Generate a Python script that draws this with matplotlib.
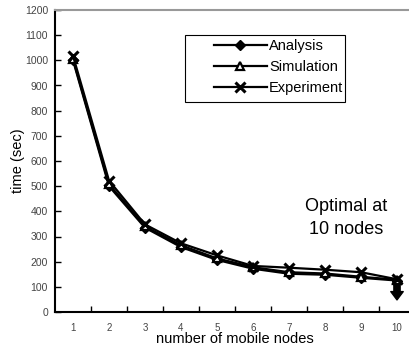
import matplotlib
matplotlib.use("Agg")
import matplotlib.pyplot as plt
from matplotlib.patches import Rectangle

plt.rcParams['font.family'] = ['Liberation Sans', 'DejaVu Sans']

nodes = [1, 2, 3, 4, 5, 6, 7, 8, 9, 10]
node_labels = [str(n) for n in nodes]
analysis = [1000, 500, 335, 258, 207, 172, 152, 148, 136, 125]
simulation = [1005, 508, 340, 265, 213, 178, 158, 153, 140, 128]
experiment = [1018, 522, 348, 273, 225, 183, 176, 168, 158, 130]
arrow_from, arrow_to = 108, 48

fig = plt.figure(figsize=(4.09, 3.49), dpi=100)
ax = fig.add_axes([55 / 409, 37 / 349, 360 / 409, 302 / 349])

lw = 1.6
ax.plot(nodes, analysis, color='black', lw=lw, marker='D', ms=5,
        mfc='black', mec='black', label='Analysis')
ax.plot(nodes, simulation, color='black', lw=lw, marker='^', ms=6,
        mfc='white', mec='black', mew=1.6, label='Simulation')
ax.plot(nodes, experiment, color='black', lw=lw, marker='x', ms=7,
        mew=2.2, label='Experiment')

ax.annotate('', xy=(10, arrow_to), xytext=(10, arrow_from),
            arrowprops=dict(arrowstyle='simple,head_width=0.9,head_length=0.6,tail_width=0.45',
                            color='black', shrinkA=0, shrinkB=0))

ax.set_xlim(0.5, 10.5)
ax.set_ylim(0, 1200)
ax.set_yticks(range(0, 1201, 100))
ax.set_xticks(nodes)
ax.set_xticklabels(node_labels)
ax.set_xticks([n + 0.5 for n in nodes[:-1]], minor=True)
ax.tick_params(axis='x', which='major', length=0, pad=8, labelsize=7, labelcolor='#444444')
ax.tick_params(axis='x', which='minor', direction='in', length=4, width=1, color='black')
ax.tick_params(axis='y', direction='in', length=4, width=1, labelsize=7.5,
               labelcolor='#444444', pad=5)

for s in ('left', 'bottom'):
    ax.spines[s].set_color('black')
    ax.spines[s].set_linewidth(1.5)
for s in ('top', 'right'):
    ax.spines[s].set_color('#999999')
    ax.spines[s].set_linewidth(1.5)

ax.set_xlabel('number of mobile nodes', fontsize=10.5, va='center')
ax.xaxis.set_label_coords(0.5, -0.09)
ax.set_ylabel('time (sec)', fontsize=10.5, va='center')
ax.yaxis.set_label_coords(-0.103, 0.5)

ax.add_patch(Rectangle((0.361, 0.695), 0.445, 0.222, transform=ax.transAxes,
                       fill=True, facecolor='white', edgecolor='black', lw=0.8, zorder=4))
leg = ax.legend(loc='upper left', bbox_to_anchor=(0.434, 0.913), frameon=False,
                fontsize=10.5, handlelength=3.6, handletextpad=0.15,
                labelspacing=0.47, borderpad=0.2, borderaxespad=0)
leg.set_zorder(5)

ax.text(0.81, 0.311, 'Optimal at\n10 nodes', transform=ax.transAxes, fontsize=13,
        ha='center', va='center', linespacing=1.4)

fig.savefig('out.png', dpi=100)
